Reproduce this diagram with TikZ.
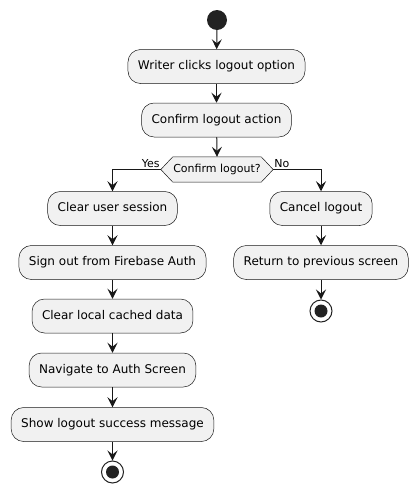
\documentclass[tikz,border=0pt]{standalone}
\usepackage{fontspec}
\setmainfont{DejaVu Sans}
\usetikzlibrary{arrows.meta,calc}
\definecolor{cline}{HTML}{181818}
\definecolor{cfill}{HTML}{F1F1F1}
\definecolor{cdot}{HTML}{222222}
\tikzset{
  act/.style={draw=cline, fill=cfill, rounded corners=12.5pt, line width=0.5pt,
    minimum height=34pt, inner xsep=10pt, inner ysep=0pt, text height=9pt, text depth=3pt,
    font=\fontsize{12}{14}\selectfont},
  flow/.style={draw=cline, line width=1pt, -{Stealth[length=10pt,width=10pt,inset=4pt]}},
  lbl/.style={font=\fontsize{11}{13}\selectfont, inner sep=0pt, text=black},
  dectext/.style={minimum width=112pt, minimum height=25pt, inner sep=0pt, text height=8pt, text depth=2.5pt,
    font=\fontsize{11}{13}\selectfont},
  startdot/.style={circle, fill=cdot, minimum size=20pt, inner sep=0pt},
  enddot/.style={circle, draw=cdot, fill=white, line width=1pt, minimum size=22pt, inner sep=0pt},
}
\begin{document}
\begin{tikzpicture}[x=1pt,y=-1pt]
\useasboundingbox (0,0) rectangle (419,493);
\node[startdot] (start) at (217,20) {};
\node[act] (b1) at (216.5,66.5) {Writer clicks logout option};
\node[act] (b2) at (216.5,120) {Confirm logout action};
\node[dectext] (dec) at (217,169.5) {};
\draw[draw=cline, fill=cfill, line width=0.5pt]
  (dec.west) -- ($(dec.north west)+(12,0)$) -- ($(dec.north east)+(-12,0)$) -- (dec.east)
  -- ($(dec.south east)+(-12,0)$) -- ($(dec.south west)+(12,0)$) -- cycle;
\node[dectext] (dectxt) at (dec.center) {Confirm logout?};
\node[act] (l1) at (112.5,208.5) {Clear user session};
\node[act] (l2) at (112.5,262.5) {Sign out from Firebase Auth};
\node[act] (l3) at (112.5,316) {Clear local cached data};
\node[act] (l4) at (112.5,370) {Navigate to Auth Screen};
\node[act] (l5) at (112.5,424.5) {Show logout success message};
\node[enddot] (endl) at (112.5,472) {};
\fill[cdot] (endl.center) circle (6.5pt);
\node[act] (r1) at (321,208.5) {Cancel logout};
\node[act] (r2) at (321,262.5) {Return to previous screen};
\node[enddot] (endr) at (321,311) {};
\fill[cdot] (endr.center) circle (6.5pt);
\node[lbl, anchor=south east] (yes) at ($(dec.west)+(-1,-2)$) {Yes};
\node[lbl, anchor=south west] (no) at ($(dec.east)+(1,-2)$) {No};
\draw[flow] (start) -- (b1);
\draw[flow] (b1) -- (b2);
\draw[flow] (b2) -- (dec.north);
\draw[flow] (dec.west) -| (l1.north);
\draw[flow] (dec.east) -| (r1.north);
\draw[flow] (l1) -- (l2);
\draw[flow] (l2) -- (l3);
\draw[flow] (l3) -- (l4);
\draw[flow] (l4) -- (l5);
\draw[flow] (l5) -- (endl);
\draw[flow] (r1) -- (r2);
\draw[flow] (r2) -- (endr);
\end{tikzpicture}
\end{document}
